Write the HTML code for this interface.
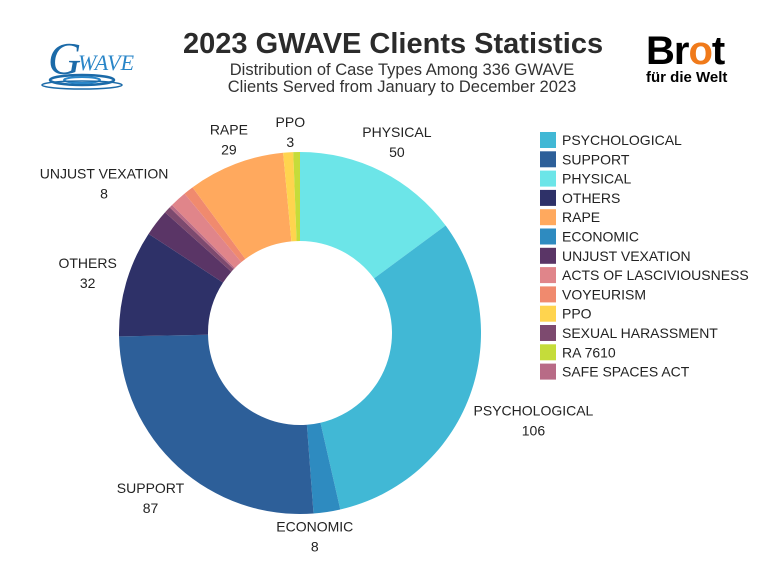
<!DOCTYPE html>
<html><head><meta charset="utf-8"><style>
body{margin:0;width:768px;height:573px;background:#fff;font-family:"Liberation Sans",sans-serif;overflow:hidden;position:relative}
.t{position:absolute;white-space:nowrap}
</style></head><body>
<div class="t" style="left:30px;top:28px;width:130px;height:62px">
<svg width="130" height="62"><text x="18" y="46" font-family="Liberation Serif,serif" font-style="italic" font-size="46" fill="#1b6aa8">G</text><text x="48" y="42" font-family="Liberation Serif,serif" font-style="italic" font-size="22" fill="#2a86c8">WAVE</text><ellipse cx="52" cy="52" rx="32" ry="5" fill="none" stroke="#1b6aa8" stroke-width="2.5"/><ellipse cx="52" cy="52" rx="18" ry="3" fill="none" stroke="#2a86c8" stroke-width="2"/><ellipse cx="52" cy="57" rx="40" ry="4" fill="none" stroke="#1b6aa8" stroke-width="1.5"/></svg></div>
<div class="t" style="left:183px;top:28px;font-size:29px;font-weight:bold;color:#2b2b2b">2023 GWAVE Clients Statistics</div>
<div class="t" style="left:190px;top:62px;width:424px;text-align:center;font-size:16.5px;line-height:17px;color:#333">Distribution of Case Types Among 336 GWAVE<br>Clients Served from January to December 2023</div>
<div class="t" style="left:646px;top:32px;width:96px">
<div style="font-size:40px;font-weight:bold;line-height:38px;letter-spacing:-1px">Br<span style="color:#f07a1a">o</span>t</div>
<div style="font-size:15px;font-weight:bold;line-height:16px">für die Welt</div></div>
<svg id="chart" width="768" height="573" style="position:absolute;left:0;top:0"></svg>
<script>
const categories=["PHYSICAL","PSYCHOLOGICAL","ECONOMIC","SUPPORT","OTHERS","UNJUST VEXATION","SEXUAL HARASSMENT","SAFE SPACES ACT","ACTS OF LASCIVIOUSNESS","VOYEURISM","RAPE","PPO","RA 7610"];
const values=[50,106,8,87,32,8,2,1,5,3,29,3,2];
const colors=["#6ce5e8","#41b8d5","#2e8bc0","#2d5f99","#2e3168","#5a3566","#7d4a6f","#b86b86","#e0858a","#f08a6e","#ffa95e","#ffd44e","#c5dc3a"];
const legendOrder=["PSYCHOLOGICAL","SUPPORT","PHYSICAL","OTHERS","RAPE","ECONOMIC","UNJUST VEXATION","ACTS OF LASCIVIOUSNESS","VOYEURISM","PPO","SEXUAL HARASSMENT","RA 7610","SAFE SPACES ACT"];
const labeled=["PHYSICAL","PSYCHOLOGICAL","ECONOMIC","SUPPORT","OTHERS","UNJUST VEXATION","RAPE","PPO"];
// label placement styling: [distance from centre, angle nudge in degrees]
const labelStyle={"PHYSICAL":[215,0],"PSYCHOLOGICAL":[249,0],"ECONOMIC":[203,4.4],"SUPPORT":[222,0],"OTHERS":[221,0],"UNJUST VEXATION":[247,0],"RAPE":[207,0.8],"PPO":[202,1]};
const NS="http://www.w3.org/2000/svg";
const svg=document.getElementById('chart');
const cx=300,cy=333,R=181,r=92;
const total=values.reduce((a,b)=>a+b,0);
function pt(a,rad){return [cx+rad*Math.sin(a),cy-rad*Math.cos(a)];}
let acc=0;
values.forEach((v,i)=>{
 const a0=acc/total*2*Math.PI;acc+=v;const a1=acc/total*2*Math.PI;
 const lg=(a1-a0)>Math.PI?1:0;
 const [x0,y0]=pt(a0,R),[x1,y1]=pt(a1,R),[x2,y2]=pt(a1,r),[x3,y3]=pt(a0,r);
 const p=document.createElementNS(NS,'path');
 p.setAttribute('d',`M${x0},${y0}A${R},${R} 0 ${lg} 1 ${x1},${y1}L${x2},${y2}A${r},${r} 0 ${lg} 0 ${x3},${y3}Z`);
 p.setAttribute('fill',colors[i]);
 
 
 svg.appendChild(p);
 if(labeled.includes(categories[i])){
  const st=labelStyle[categories[i]];
  const am=(a0+a1)/2+st[1]*Math.PI/180;
  const [lx,ly]=pt(am,st[0]);
  const t=document.createElementNS(NS,'text');
  t.setAttribute('x',lx);t.setAttribute('y',ly-4);t.setAttribute('text-anchor','middle');
  t.setAttribute('font-size','14');t.setAttribute('fill','#222');t.setAttribute('font-family','Liberation Sans, sans-serif');
  
  
  const s1=document.createElementNS(NS,'tspan');s1.setAttribute('x',lx);s1.textContent=categories[i];
  const s2=document.createElementNS(NS,'tspan');s2.setAttribute('x',lx);s2.setAttribute('dy','20');s2.textContent=v;
  t.appendChild(s1);t.appendChild(s2);svg.appendChild(t);
 }
});
legendOrder.forEach((c,j)=>{
 const i=categories.indexOf(c);const y=132+j*19.3;
 const rc=document.createElementNS(NS,'rect');
 rc.setAttribute('x',540);rc.setAttribute('y',y);rc.setAttribute('width',16);rc.setAttribute('height',16);rc.setAttribute('fill',colors[i]);
 
 
 svg.appendChild(rc);
 const t=document.createElementNS(NS,'text');
 t.setAttribute('x',562);t.setAttribute('y',y+13);t.setAttribute('font-size','14');t.setAttribute('fill','#222');t.setAttribute('font-family','Liberation Sans, sans-serif');
 t.textContent=c;
 
 
 svg.appendChild(t);
});
</script>
</body></html>
